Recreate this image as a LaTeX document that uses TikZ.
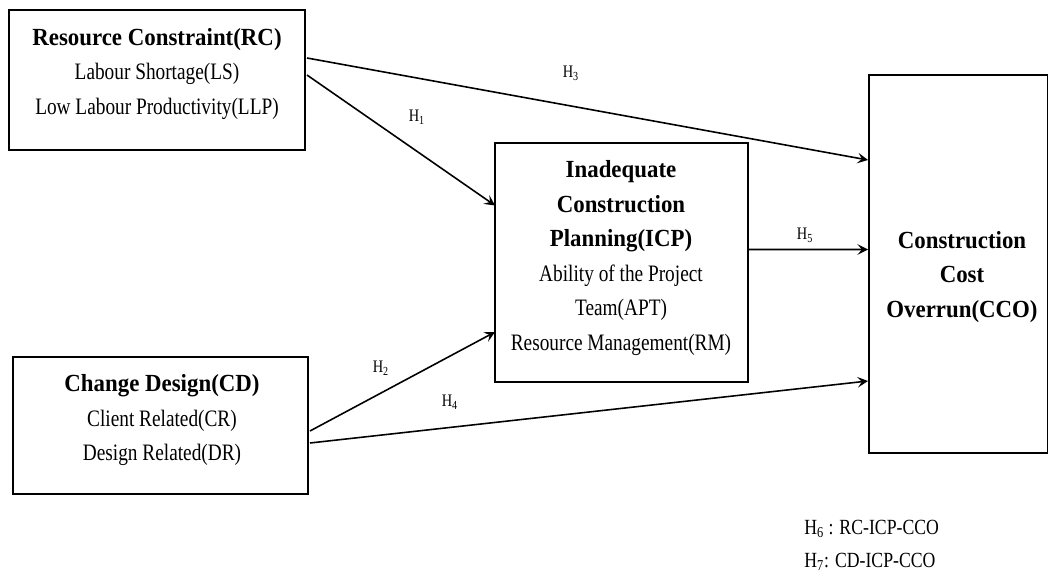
\documentclass[tikz,border=0pt]{standalone}
\usepackage{fontspec}
\setmainfont{Liberation Serif}[FakeStretch=0.82]
\newfontfamily\titlefont{Liberation Serif}[FakeStretch=0.93]
\usetikzlibrary{calc,arrows.meta}
\tikzset{
  box/.style={draw, line width=0.75pt, inner sep=0pt, outer sep=0pt},
  boxtext/.style={align=center, inner sep=0pt, font=\fontsize{13.4}{19.6}\selectfont},
  hlabel/.style={inner sep=0pt, font=\fontsize{10}{12}\selectfont},
  link/.style={line width=0.9pt, -{Stealth[length=6pt,width=6pt,inset=2.5pt]}}
}
\newcommand{\titleline}[1]{{\titlefont\bfseries\fontsize{14}{19.6}\selectfont #1}}

\begin{document}
\begin{tikzpicture}[x=0.02cm, y=-0.02cm]
			%%%%% START %%%%%
			\useasboundingbox (0, 0) rectangle (1048, 575);
			
			\node[box, minimum width=5.92cm, minimum height=2.8cm] (rc) at (157, 80) {};
			\node[box, minimum width=5.06cm, minimum height=4.78cm] (icp) at (621.5, 262.5) {};
			\node[box, minimum width=5.9cm, minimum height=2.74cm] (cd) at (160.5, 425.5) {};
			\node[box, minimum width=3.58cm, minimum height=7.56cm] (cco) at (958.5, 264) {};
			
			\node[boxtext] (rctext) at (157, 74) {\titleline{Resource Constraint(RC)}\\ Labour Shortage(LS)\\ Low Labour Productivity(LLP)};
			\node[boxtext] (icptext) at (621, 258) {\titleline{Inadequate}\\ \titleline{Construction}\\ \titleline{Planning(ICP)}\\ Ability of the Project\\ Team(APT)\\ Resource Management(RM)};
			\node[boxtext] (cdtext) at (162, 420) {\titleline{Change Design(CD)}\\ Client Related(CR)\\ Design Related(DR)};
			\node[boxtext] (ccotext) at (962, 277) {\titleline{Construction}\\ \titleline{Cost}\\ \titleline{Overrun(CCO)}};
			
			\draw[link] ($(rc.east)+(2, -22)$) -- ($(cco.west)+(-1, -104)$);
			\draw[link] ($(rc.east)+(2, -5)$) -- ($(icp.west)+(0, -57)$);
			\draw[link] ($(cd.east)+(2, 5.5)$) -- ($(icp.west)+(0, 69.5)$);
			\draw[link] ($(cd.east)+(2, 17.5)$) -- ($(cco.west)+(-1, 117)$);
			\draw[link] ($(icp.east)+(0, -13)$) -- ($(cco.west)+(-1, -14.5)$);
			
			\node[hlabel] (h1) at (417, 117) {H\textsubscript{1}};
			\node[hlabel] (h2) at (381, 368) {H\textsubscript{2}};
			\node[hlabel] (h3) at (571, 73) {H\textsubscript{3}};
			\node[hlabel] (h4) at (450, 402) {H\textsubscript{4}};
			\node[hlabel] (h5) at (805, 235) {H\textsubscript{5}};
			
			\node[anchor=west, inner sep=0pt, font=\fontsize{12.3}{14}\selectfont] (h6) at (804, 529) {H\textsubscript{6} : RC-ICP-CCO};
			\node[anchor=west, inner sep=0pt, font=\fontsize{12.3}{14}\selectfont] (h7) at (804, 562) {H\textsubscript{7}: CD-ICP-CCO};
			%%%%% END %%%%%
\end{tikzpicture}
\end{document}
